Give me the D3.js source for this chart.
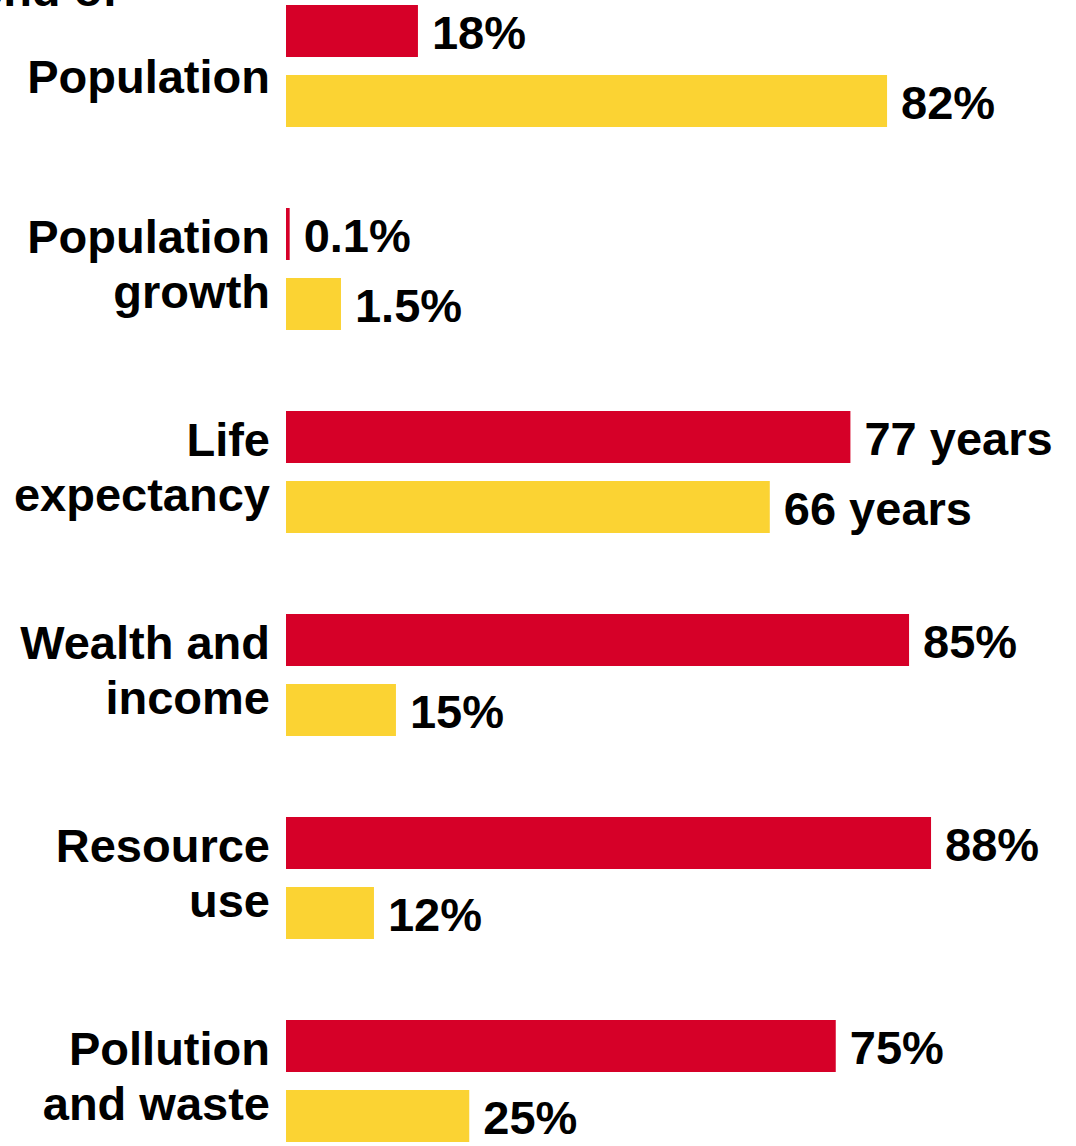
<!DOCTYPE html>
<html>
<head>
<meta charset="utf-8">
<script src="https://cdn.jsdelivr.net/npm/d3@7"></script>
<style>
  html, body { margin: 0; padding: 0; background: #fff; overflow: hidden; }
  svg { display: block; }
  text { font-family: "Liberation Sans", Arial, Helvetica, sans-serif; font-weight: bold; fill: #000; }
</style>
</head>
<body>
<svg id="chart" width="1076" height="1146"></svg>
<script>
// Indicators, each drawn as a pair of bars (rich countries, poor countries)
const categories = [
  ["Population"],
  ["Population", "growth"],
  ["Life", "expectancy"],
  ["Wealth and", "income"],
  ["Resource", "use"],
  ["Pollution", "and waste"]
];
const richValues = [18, 0.1, 77, 85, 88, 75];
const poorValues = [82, 1.5, 66, 15, 12, 25];
const units = ["%", "%", " years", "%", "%", "%"];
// Upper end of each indicator's value axis
const axisMax = [100, 20, 100, 100, 100, 100];
const seriesNames = ["rich", "poor"];
const seriesColors = ["#d60028", "#fbd333"];

const svg = d3.select("#chart");
const barLeft = 286, fullWidth = 733;
const fontSize = 47;

// Vertical layout: one band per indicator, two sub-bands for the bars
const yGroup = d3.scaleBand()
  .domain(d3.range(categories.length))
  .range([5, 5 + 203 * categories.length])
  .paddingInner(0).paddingOuter(0);
const ySeries = d3.scaleBand()
  .domain(seriesNames)
  .range([0, 122])
  .paddingInner(18 / 70).paddingOuter(0);
const color = d3.scaleOrdinal().domain(seriesNames).range(seriesColors);

// Each indicator has its own linear value scale
const xScales = axisMax.map(m => d3.scaleLinear().domain([0, m]).range([barLeft, barLeft + fullWidth]));

// Title line running off the top edge
svg.append("text")
  .attr("x", 118).attr("y", 6)
  .attr("text-anchor", "end")
  .attr("font-size", fontSize)
  .text("end of");

const rows = categories.map((lines, i) => ({
  i, lines,
  bars: [
    { s: "rich", v: richValues[i] },
    { s: "poor", v: poorValues[i] }
  ]
}));

const g = svg.selectAll("g.row")
  .data(rows)
  .join("g")
  .attr("class", "row")
  .attr("transform", d => `translate(0,${yGroup(d.i)})`);

g.selectAll("rect")
  .data(d => d.bars.map(b => ({ ...b, i: d.i })))
  .join("rect")
  .attr("x", barLeft)
  .attr("y", b => ySeries(b.s))
  .attr("width", b => Math.max(0, xScales[b.i](b.v) - barLeft))
  .attr("height", ySeries.bandwidth())
  .attr("fill", b => color(b.s));

const fmt = v => (Number.isInteger(v) ? String(v) : d3.format(".1f")(v));

g.selectAll("text.value")
  .data(d => d.bars.map(b => ({ ...b, i: d.i })))
  .join("text")
  .attr("class", "value")
  .attr("x", b => xScales[b.i](b.v) + 14)
  .attr("y", b => ySeries(b.s) + ySeries.bandwidth() / 2 + 18)
  .attr("font-size", fontSize)
  .text(b => fmt(b.v) + units[b.i]);

// Category labels, right-aligned next to the bars
const lineGap = 55;
g.each(function (d) {
  const n = d.lines.length;
  // two-line labels straddle the pair of bars; a single line sits beside its midpoint
  const lastBase = n > 1 ? ySeries("poor") + ySeries.bandwidth() - 22 : ySeries("poor") + 18;
  d3.select(this).selectAll("text.cat")
    .data(d.lines)
    .join("text")
    .attr("class", "cat")
    .attr("x", 270)
    .attr("y", (t, k) => lastBase - (n - 1 - k) * lineGap)
    .attr("text-anchor", "end")
    .attr("font-size", fontSize)
    .text(t => t);
});
</script>
</body>
</html>
